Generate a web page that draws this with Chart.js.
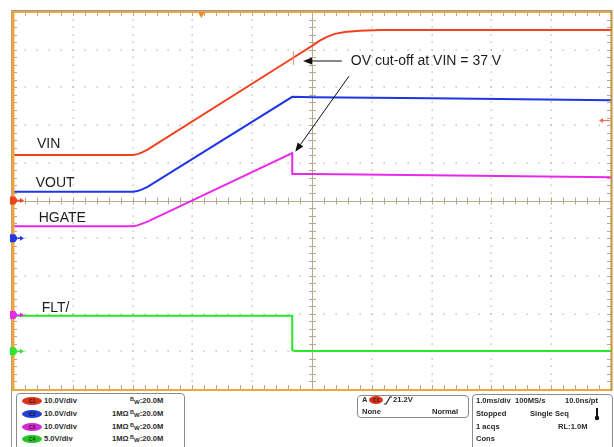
<!DOCTYPE html>
<html>
<head>
<meta charset="utf-8">
<script src="https://cdn.jsdelivr.net/npm/chart.js@4.4.1/dist/chart.umd.min.js"></script>
<style>
  html, body { margin: 0; padding: 0; background: #ffffff; }
  #wrap { position: relative; width: 614px; height: 447px; overflow: hidden; background: #ffffff; }
  #c { position: absolute; left: 0; top: 0; }
  .box { position: absolute; border: 1px solid #8a8a8a; border-radius: 4px; background: #ffffff; }
  .t { position: absolute; font: bold 7.6px "Liberation Sans", Arial, sans-serif; color: #2a2a2a; white-space: nowrap; line-height: 10px; height: 10px; }
  .hb { position: relative; top: -2px; font-size: 5.5px; }
  .lw { position: relative; top: 1px; font-size: 6px; }
  .badge { position: absolute; width: 20px; height: 8px; border-radius: 50%; font: bold 5px "Liberation Sans", Arial, sans-serif; line-height: 8px; text-align: center; color: #3a1010; }
  .frameL { position: absolute; left: 11px; top: 390px; width: 1px; height: 57px; background: #9a9a9a; }
</style>
</head>
<body>
<div id="wrap">
  <canvas id="c" width="614" height="447"></canvas>
  <div class="frameL"></div>

  <!-- channel settings box -->
  <div class="box" style="left:16px; top:393px; width:167px; height:60px;"></div>
  <div class="badge" style="left:22px; top:397px; background:#d8341a;">C1</div>
  <div class="t" style="left:44px; top:396px;">10.0V/div</div>
  <div class="t" style="left:130px; top:396px;"><span class="hb">B</span><span class="lw">W</span>:20.0M</div>
  <div class="badge" style="left:22px; top:410px; background:#2342d6;color:#101040;">C2</div>
  <div class="t" style="left:44px; top:409px;">10.0V/div</div>
  <div class="t" style="left:112px; top:409px;">1MΩ</div>
  <div class="t" style="left:130px; top:409px;"><span class="hb">B</span><span class="lw">W</span>:20.0M</div>
  <div class="badge" style="left:22px; top:423px; background:#d12ad1;color:#401040;">C3</div>
  <div class="t" style="left:44px; top:422px;">10.0V/div</div>
  <div class="t" style="left:112px; top:422px;">1MΩ</div>
  <div class="t" style="left:130px; top:422px;"><span class="hb">B</span><span class="lw">W</span>:20.0M</div>
  <div class="badge" style="left:22px; top:435px; background:#27c22a;color:#104010;">C4</div>
  <div class="t" style="left:44px; top:434px;">5.0V/div</div>
  <div class="t" style="left:112px; top:434px;">1MΩ</div>
  <div class="t" style="left:130px; top:434px;"><span class="hb">B</span><span class="lw">W</span>:20.0M</div>

  <!-- trigger box -->
  <div class="box" style="left:357px; top:395px; width:110px; height:21px;"></div>
  <div class="t" style="left:362px; top:395px;">A</div>
  <div class="badge" style="left:369px; top:396px; width:14px; background:#d8341a;">C1</div>
  <svg style="position:absolute; left:384px; top:396px;" width="8" height="9"><path d="M0 8 L2 8 L6 1 L8 1" stroke="#222" stroke-width="1.2" fill="none"/></svg>
  <div class="t" style="left:393px; top:395px;">21.2V</div>
  <div class="t" style="left:362px; top:407px;">None</div>
  <div class="t" style="left:432px; top:407px;">Normal</div>

  <!-- timebase box -->
  <div class="box" style="left:472px; top:394px; width:139px; height:60px;"></div>
  <div class="t" style="left:476px; top:396px;">1.0ms/div</div>
  <div class="t" style="left:515px; top:396px;">100MS/s</div>
  <div class="t" style="left:565px; top:396px;">10.0ns/pt</div>
  <div class="t" style="left:476px; top:409px;">Stopped</div>
  <div class="t" style="left:530px; top:409px;">Single Seq</div>
  <svg style="position:absolute; left:594px; top:408px;" width="6" height="13"><rect x="2" y="0" width="2" height="9" fill="#111"/><circle cx="3" cy="10" r="2.2" fill="#111"/></svg>
  <div class="t" style="left:476px; top:422px;">1 acqs</div>
  <div class="t" style="left:558px; top:422px;">RL:1.0M</div>
  <div class="t" style="left:476px; top:434px;">Cons</div>
</div>

<script>
// ---- data (time in ms, amplitude in screen divisions) ----
const vinT  = [-5.0, -2.99, -2.92, -2.85, -2.75, -0.32, 0.02, 0.13, 0.25, 0.38, 0.55, 0.80, 1.15, 5.0];
const vinV  = [6.21, 6.21, 6.23, 6.27, 6.35, 8.78, 9.12, 9.24, 9.34, 9.42, 9.47, 9.50, 9.52, 9.52];
const voutT = [-5.0, -2.99, -2.92, -2.85, -2.75, -0.33, 0.0, 2.0, 5.0];
const voutV = [5.23, 5.23, 5.25, 5.29, 5.36, 7.75, 7.74, 7.71, 7.66];
const hgT   = [-5.0, -2.99, -2.92, -2.85, -2.75, -0.33, -0.33, 0.0, 2.0, 5.0];
const hgV   = [4.32, 4.32, 4.34, 4.38, 4.44, 6.26, 5.70, 5.70, 5.67, 5.62];
const fltT  = [-5.0, -0.33, -0.33, -0.28, 5.0];
const fltV  = [1.94, 1.94, 1.03, 1.01, 1.01];

const groundLevels = [5.0, 4.0, 1.96, 1.0];        // C1..C4 reference markers (div)
const triggerTime = -1.85;                          // ms
const triggerLevel = 7.12;                          // div (21.2 V on C1)
const cursorTime = -0.32;

const colors = ['#f2411c', '#1f36e6', '#e82ae8', '#2be62b'];

const labels = [
  { text: 'VIN',   t: -4.60, v: 6.39 },
  { text: 'VOUT',  t: -4.62, v: 5.36 },
  { text: 'HGATE', t: -4.57, v: 4.43 },
  { text: 'FLT/',  t: -4.52, v: 2.04 },
  { text: 'OV cut-off at VIN = 37 V', t: 0.65, v: 8.59 }
];
const arrows = [
  { t1: 0.50, v1: 8.70, t2: -0.15, v2: 8.70 },
  { t1: 0.62, v1: 8.30, t2: -0.28, v2: 6.29 }
];

function pts(T, V) { return T.map((t, i) => ({ x: t, y: V[i] })); }

const scopeGrid = {
  id: 'scopeGrid',
  beforeDatasetsDraw(chart) {
    const ctx = chart.ctx, xs = chart.scales.x, ys = chart.scales.y;
    const L = xs.getPixelForValue(-5), R = xs.getPixelForValue(5);
    const T = ys.getPixelForValue(10), B = ys.getPixelForValue(0);
    const cx = xs.getPixelForValue(0), cy = ys.getPixelForValue(5);
    ctx.save();
    ctx.fillStyle = '#b9b4a8';
    for (let i = -4; i <= 4; i++) {
      if (i === 0) continue;
      const x = xs.getPixelForValue(i);
      for (let k = 0; k <= 50; k++) {
        const y = ys.getPixelForValue(k * 0.2);
        ctx.fillRect(Math.round(x) - 0.5, Math.round(y) - 0.5, 1.3, 1.3);
      }
    }
    for (let j = 1; j <= 9; j++) {
      if (j === 5) continue;
      const y = ys.getPixelForValue(j);
      for (let k = 0; k <= 50; k++) {
        const x = xs.getPixelForValue(-5 + k * 0.2);
        ctx.fillRect(Math.round(x) - 0.5, Math.round(y) - 0.5, 1.3, 1.3);
      }
    }
    ctx.strokeStyle = '#b3aa8e';
    ctx.lineWidth = 1;
    ctx.beginPath();
    ctx.moveTo(L, Math.round(cy) + 0.5); ctx.lineTo(R, Math.round(cy) + 0.5);
    ctx.moveTo(Math.round(cx) + 0.5, T); ctx.lineTo(Math.round(cx) + 0.5, B);
    for (let k = 0; k <= 50; k++) {
      const x = Math.round(xs.getPixelForValue(-5 + k * 0.2)) + 0.5;
      const y = Math.round(ys.getPixelForValue(k * 0.2)) + 0.5;
      ctx.moveTo(x, cy - 3); ctx.lineTo(x, cy + 4);
      ctx.moveTo(cx - 3, y); ctx.lineTo(cx + 4, y);
      ctx.moveTo(x, T); ctx.lineTo(x, T + 4);
      ctx.moveTo(x, B); ctx.lineTo(x, B - 4);
      ctx.moveTo(L, y); ctx.lineTo(L + 4, y);
      ctx.moveTo(R, y); ctx.lineTo(R - 4, y);
    }
    ctx.stroke();
    ctx.restore();
  },
  afterDatasetsDraw(chart) {
    const ctx = chart.ctx, xs = chart.scales.x, ys = chart.scales.y;
    const L = xs.getPixelForValue(-5), R = xs.getPixelForValue(5);
    const T = ys.getPixelForValue(10), B = ys.getPixelForValue(0);
    ctx.save();
    ctx.strokeStyle = '#9a9a9a'; ctx.lineWidth = 1;
    ctx.beginPath();
    ctx.moveTo(L - 1.5, B + 1); ctx.lineTo(L - 1.5, T - 1.5); ctx.lineTo(R + 1.5, T - 1.5);
    ctx.stroke();
    ctx.strokeStyle = '#f0a53a';
    ctx.lineWidth = 2;
    ctx.beginPath();
    ctx.moveTo(L, B + 1); ctx.lineTo(R + 1, B + 1);
    ctx.moveTo(L, T); ctx.lineTo(R, T);
    ctx.stroke();
    ctx.lineWidth = 3;
    ctx.beginPath(); ctx.moveTo(L, T - 1); ctx.lineTo(L, B + 2); ctx.stroke();
    ctx.strokeStyle = '#c0913a'; ctx.lineWidth = 2;
    ctx.beginPath(); ctx.moveTo(R + 0.5, T - 1); ctx.lineTo(R + 0.5, B + 2); ctx.stroke();

    groundLevels.forEach((g, i) => {
      const y = ys.getPixelForValue(g);
      ctx.fillStyle = colors[i]; ctx.strokeStyle = colors[i]; ctx.lineWidth = 1.5;
      ctx.beginPath();
      ctx.moveTo(L - 3, y - 4); ctx.lineTo(L + 2, y - 4); ctx.lineTo(L + 5, y);
      ctx.lineTo(L + 2, y + 4); ctx.lineTo(L - 3, y + 4); ctx.closePath(); ctx.fill();
      ctx.beginPath(); ctx.moveTo(L + 5, y); ctx.lineTo(L + 8, y); ctx.stroke();
      ctx.beginPath(); ctx.moveTo(L + 11, y); ctx.lineTo(L + 7, y - 2.5); ctx.lineTo(L + 7, y + 2.5); ctx.closePath(); ctx.fill();
    });
    const tx = xs.getPixelForValue(triggerTime);
    ctx.fillStyle = '#f08a2a';
    ctx.beginPath(); ctx.moveTo(tx - 3.5, T); ctx.lineTo(tx + 3.5, T); ctx.lineTo(tx, T + 6); ctx.closePath(); ctx.fill();
    const ty = ys.getPixelForValue(triggerLevel);
    ctx.strokeStyle = '#f56a4a'; ctx.fillStyle = '#f56a4a'; ctx.lineWidth = 1;
    ctx.beginPath(); ctx.moveTo(R - 1, ty); ctx.lineTo(R - 9, ty); ctx.stroke();
    ctx.beginPath(); ctx.moveTo(R - 12, ty); ctx.lineTo(R - 8, ty - 2.5); ctx.lineTo(R - 8, ty + 2.5); ctx.closePath(); ctx.fill();
    const cx = xs.getPixelForValue(cursorTime);
    ctx.strokeStyle = '#f28a70'; ctx.lineWidth = 1;
    ctx.beginPath(); ctx.moveTo(cx + 0.5, ys.getPixelForValue(8.96)); ctx.lineTo(cx + 0.5, ys.getPixelForValue(8.59)); ctx.stroke();

    ctx.fillStyle = '#1e1e1e';
    ctx.font = '14px "Liberation Sans", Arial, sans-serif';
    ctx.textBaseline = 'alphabetic';
    labels.forEach(l => ctx.fillText(l.text, xs.getPixelForValue(l.t), ys.getPixelForValue(l.v)));
    ctx.strokeStyle = '#111'; ctx.fillStyle = '#111'; ctx.lineWidth = 1;
    arrows.forEach(a => {
      const x1 = xs.getPixelForValue(a.t1), y1 = ys.getPixelForValue(a.v1);
      const x2 = xs.getPixelForValue(a.t2), y2 = ys.getPixelForValue(a.v2);
      const ang = Math.atan2(y2 - y1, x2 - x1);
      const hl = 9, hw = 3.5;
      const bx = x2 - hl * Math.cos(ang), by = y2 - hl * Math.sin(ang);
      ctx.beginPath(); ctx.moveTo(x1, y1); ctx.lineTo(bx, by); ctx.stroke();
      ctx.beginPath();
      ctx.moveTo(x2, y2);
      ctx.lineTo(bx + hw * Math.sin(ang), by - hw * Math.cos(ang));
      ctx.lineTo(bx - hw * Math.sin(ang), by + hw * Math.cos(ang));
      ctx.closePath(); ctx.fill();
    });
    ctx.restore();
  }
};

new Chart(document.getElementById('c'), {
  type: 'line',
  data: {
    datasets: [
      { label: 'FLT/',  data: pts(fltT, fltV),   borderColor: colors[3] },
      { label: 'HGATE', data: pts(hgT, hgV),     borderColor: colors[2] },
      { label: 'VOUT',  data: pts(voutT, voutV), borderColor: colors[1] },
      { label: 'VIN',   data: pts(vinT, vinV),   borderColor: colors[0] }
    ]
  },
  options: {
    responsive: false,
    animation: false,
    events: [],
    layout: { padding: { left: 13, top: 12, right: 3, bottom: 58 } },
    elements: { point: { radius: 0 }, line: { borderWidth: 2, tension: 0 } },
    scales: {
      x: { type: 'linear', min: -5, max: 5, display: false },
      y: { type: 'linear', min: 0, max: 10, display: false }
    },
    plugins: { legend: { display: false }, tooltip: { enabled: false } }
  },
  plugins: [scopeGrid]
});
</script>
</body>
</html>
